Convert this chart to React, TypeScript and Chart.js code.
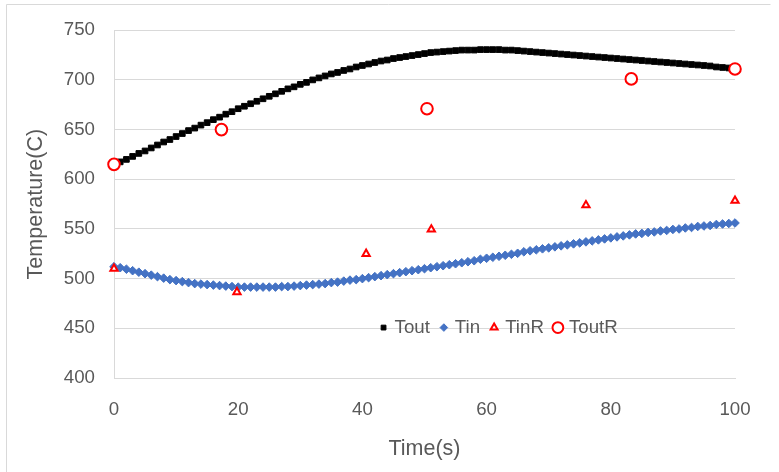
import React, { useEffect, useRef } from 'react';
import { Chart, registerables } from 'chart.js';
import { drawPoint } from 'chart.js/helpers';

Chart.register(...registerables);

const TIME = [
  0, 1, 2, 3, 4, 5, 6, 7, 8, 9, 10, 11, 12, 13, 14, 15, 16, 17, 18, 19, 20,
  21, 22, 23, 24, 25, 26, 27, 28, 29, 30, 31, 32, 33, 34, 35, 36, 37, 38, 39, 40,
  41, 42, 43, 44, 45, 46, 47, 48, 49, 50, 51, 52, 53, 54, 55, 56, 57, 58, 59, 60,
  61, 62, 63, 64, 65, 66, 67, 68, 69, 70, 71, 72, 73, 74, 75, 76, 77, 78, 79, 80,
  81, 82, 83, 84, 85, 86, 87, 88, 89, 90, 91, 92, 93, 94, 95, 96, 97, 98, 99, 100,
];

const TOUT = [
  615, 617.5, 620, 623, 626, 628.5, 631.5, 634.5, 637.5, 640, 643,
  646, 649, 651.5, 654.5, 657, 660, 662.5, 665.5, 668, 671,
  673.5, 676, 678.5, 681, 683.5, 686, 688.5, 691, 693, 695.5,
  697.5, 700, 702, 704, 706, 707.5, 709.5, 711, 713, 714.5,
  716, 717.5, 719, 720, 721.5, 722.5, 723.5, 724.5, 725.5, 726.5,
  727.5, 728, 728.5, 729, 729.5, 730, 730, 730, 730.5, 730.5,
  730.5, 730.5, 730, 730, 729.5, 729, 728.5, 728, 727.5, 727,
  726.5, 726, 725.5, 725, 724.5, 724, 723.5, 723, 722.5, 722,
  721.5, 721, 720.5, 720, 719.5, 719, 718.5, 718, 717.5, 717,
  716.5, 716, 715.5, 715, 714.5, 714, 713, 712.5, 712, 711,
];

const TIN = [
  512, 511, 509.5, 508, 506.5, 505, 503.5, 502, 500.5, 499, 498,
  497, 496, 495, 494.5, 494, 493.5, 493, 492.5, 492, 491.5,
  491.5, 491.5, 491.5, 491.5, 491.5, 491.5, 492, 492, 492.5, 493,
  493.5, 494, 494.5, 495, 496, 496.5, 497.5, 498.5, 499, 500,
  501, 502, 503, 504, 505, 506, 507, 508, 509, 510,
  511, 512, 513, 514, 515, 516, 517, 518, 519.5, 520.5,
  521.5, 522.5, 523.5, 524.5, 525.5, 527, 528, 529, 530, 531,
  532, 533, 534, 535, 536, 537, 538, 539, 540, 541,
  542, 543, 544, 545, 545.5, 546.5, 547, 548, 548.5, 549.5,
  550, 551, 551.5, 552.5, 553, 553.5, 554.5, 555, 555.5, 556,
];

const TINR_TIME = [0, 19.8, 40.6, 51.1, 76, 100];
const TINR = [510, 486.5, 525, 549.5, 574, 578.5];

const TOUTR_TIME = [0, 17.3, 50.4, 83.3, 100];
const TOUTR = [615, 650, 671, 701, 711];

const SERIES_NAMES = ['Tout', 'Tin', 'TinR', 'ToutR'];
const X_TICKS = [0, 20, 40, 60, 80, 100];
const Y_TICKS = [400, 450, 500, 550, 600, 650, 700, 750];
const X_TITLE = 'Time(s)';
const Y_TITLE = 'Temperature(C)';

const FONT = "'Liberation Sans', Arial, sans-serif";
const TEXT = '#595959';
const GRID = '#d9d9d9';

const pairs = (xs: number[], ys: number[]) => xs.map((x, i) => ({ x, y: ys[i] }));

const framePlugin = {
  id: 'frame',
  beforeDraw(chart: any) {
    const { ctx, width, height } = chart;
    ctx.save();
    ctx.fillStyle = '#ffffff';
    ctx.fillRect(0, 0, width, height);
    ctx.strokeStyle = GRID;
    ctx.lineWidth = 1;
    ctx.beginPath();
    ctx.moveTo(6.5, height);
    ctx.lineTo(6.5, 4.5);
    ctx.lineTo(770.5, 4.5);
    ctx.stroke();
    ctx.restore();
  },
};

const insideLegend = {
  id: 'insideLegend',
  afterDatasetsDraw(chart: any) {
    const { ctx, chartArea } = chart;
    const w = chartArea.right - chartArea.left;
    const h = chartArea.bottom - chartArea.top;
    let cursor = chartArea.left + 0.426 * w;
    const y = chartArea.top + 0.855 * h;
    ctx.save();
    ctx.font = `18.7px ${FONT}`;
    ctx.textBaseline = 'middle';
    ctx.textAlign = 'left';
    chart.data.datasets.forEach((ds: any) => {
      const mx = cursor + 5;
      ctx.fillStyle = ds.pointBackgroundColor;
      ctx.strokeStyle = ds.pointBorderColor;
      ctx.lineWidth = ds.pointBorderWidth;
      drawPoint(
        ctx,
        {
          pointStyle: ds.pointStyle,
          rotation: 0,
          radius: ds.legendRadius,
          borderWidth: ds.pointBorderWidth,
        } as any,
        mx,
        y
      );
      const tx = mx + 11;
      ctx.fillStyle = TEXT;
      ctx.fillText(ds.label, tx, y);
      cursor = tx + ctx.measureText(ds.label).width + 9;
    });
    ctx.restore();
  },
};

export default function App() {
  const canvasRef = useRef<HTMLCanvasElement | null>(null);

  useEffect(() => {
    const canvas = canvasRef.current;
    if (!canvas) return;
    const chart = new Chart(canvas, {
      type: 'scatter',
      data: {
        datasets: [
          {
            label: SERIES_NAMES[0],
            data: pairs(TIME, TOUT),
            pointStyle: 'rect',
            pointRadius: 4,
            legendRadius: 3.4,
            pointBorderWidth: 1,
            pointBackgroundColor: '#000000',
            pointBorderColor: '#000000',
            showLine: false,
            order: 3,
          } as any,
          {
            label: SERIES_NAMES[1],
            data: pairs(TIME, TIN),
            pointStyle: 'rectRot',
            pointRadius: 4.3,
            legendRadius: 3.8,
            pointBorderWidth: 1,
            pointBackgroundColor: '#4472C4',
            pointBorderColor: '#4472C4',
            showLine: false,
            order: 2,
          } as any,
          {
            label: SERIES_NAMES[2],
            data: pairs(TINR_TIME, TINR),
            pointStyle: 'triangle',
            pointRadius: 4.2,
            legendRadius: 4,
            pointBorderWidth: 2,
            pointBackgroundColor: '#ffffff',
            pointBorderColor: '#ff0000',
            showLine: false,
            order: 1,
          } as any,
          {
            label: SERIES_NAMES[3],
            data: pairs(TOUTR_TIME, TOUTR),
            pointStyle: 'circle',
            pointRadius: 5.8,
            legendRadius: 5.4,
            pointBorderWidth: 2,
            pointBackgroundColor: '#ffffff',
            pointBorderColor: '#ff0000',
            showLine: false,
            order: 0,
          } as any,
        ],
      },
      options: {
        responsive: false,
        animation: false,
        events: [],
        clip: false as any,
        layout: { padding: { left: 0, right: 44, top: 28, bottom: 0 } },
        plugins: {
          legend: { display: false },
          tooltip: { enabled: false },
        },
        scales: {
          x: {
            type: 'linear',
            min: 0,
            max: 100,
            afterBuildTicks: (scale: any) => {
              scale.ticks = X_TICKS.map((v) => ({ value: v }));
            },
            afterFit: (scale: any) => {
              scale.height = 94;
            },
            grid: { display: false, drawTicks: false },
            border: { display: true, color: GRID, width: 1 },
            ticks: {
              padding: 20.5,
              color: TEXT,
              font: { family: FONT, size: 18.7 },
              maxRotation: 0,
            },
            title: {
              display: true,
              text: X_TITLE,
              color: TEXT,
              font: { family: FONT, size: 21.5 },
              padding: { top: 0, bottom: 10 },
            },
          },
          y: {
            type: 'linear',
            min: 400,
            max: 750,
            afterBuildTicks: (scale: any) => {
              scale.ticks = Y_TICKS.map((v) => ({ value: v }));
            },
            afterFit: (scale: any) => {
              scale.width = 114;
            },
            grid: { display: true, color: GRID, lineWidth: 1, drawTicks: false },
            border: { display: true, color: GRID, width: 1 },
            ticks: {
              padding: 19,
              color: TEXT,
              font: { family: FONT, size: 18.7 },
            },
            title: {
              display: true,
              text: Y_TITLE,
              color: TEXT,
              font: { family: FONT, size: 21.5 },
              padding: { top: 23, bottom: 0 },
            },
          },
        },
      },
      plugins: [framePlugin, insideLegend],
    });
    return () => chart.destroy();
  }, []);

  return (
    <div style={{ position: 'fixed', left: 0, top: 0, width: 779, height: 472, background: '#fff' }}>
      <canvas ref={canvasRef} width={779} height={472} style={{ display: 'block', width: 779, height: 472 }} />
    </div>
  );
}
